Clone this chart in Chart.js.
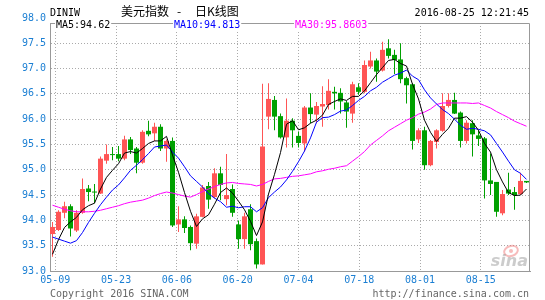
<!DOCTYPE html>
<html lang="zh-CN">
<head>
<meta charset="UTF-8">
<meta name="viewport" content="width=device-width, initial-scale=1.0">
<title>DINIW 美元指数 - 日K线图</title>
<style>
  html, body { margin: 0; padding: 0; background: #fff; }
  canvas { display: block; }
</style>
</head>
<body>
<canvas id="kline" width="545" height="300"></canvas>
<script src="https://cdn.jsdelivr.net/npm/chart.js"></script>
<script>
// daily bars, 05-06 .. 08-25 (80 sessions)
const openP = [93.73, 93.81, 94.15, 94.28, 93.80, 94.15, 94.63, 94.57, 94.53, 95.18,
               95.31, 95.31, 95.22, 95.60, 95.42, 95.14, 95.77, 95.72, 95.85, 95.42,
               95.57, 93.92, 94.02, 93.87, 93.54, 94.07, 94.68, 94.46, 94.93, 94.42,
               94.62, 93.92, 93.63, 94.22, 93.59, 93.13, 96.05, 96.38, 96.06, 95.64,
               95.97, 95.67, 95.52, 96.23, 96.09, 96.25, 96.28, 96.54, 96.52, 96.33,
               96.11, 96.63, 96.54, 97.04, 97.16, 96.96, 97.40, 97.27, 97.18, 96.81,
               96.69, 95.60, 95.78, 95.09, 95.55, 95.77, 96.26, 96.38, 96.13, 95.57,
               95.92, 95.68, 95.62, 94.79, 94.76, 94.14, 94.61, 94.56, 94.52, 94.78];
const highP = [93.97, 94.20, 94.37, 94.32, 94.20, 94.83, 94.70, 94.72, 95.26, 95.50,
               95.45, 95.47, 95.67, 95.65, 95.45, 95.78, 95.97, 95.93, 95.90, 95.60,
               95.64, 94.28, 94.08, 93.90, 94.13, 94.70, 94.76, 95.03, 95.06, 95.31,
               94.71, 94.00, 94.15, 94.32, 93.64, 96.70, 96.71, 96.46, 96.11, 96.41,
               96.02, 95.75, 96.26, 96.51, 96.34, 96.65, 96.79, 96.64, 96.61, 96.36,
               96.74, 96.71, 97.16, 97.33, 97.20, 97.53, 97.58, 97.37, 97.50, 96.84,
               96.71, 95.82, 95.85, 95.59, 95.80, 96.51, 96.51, 96.52, 96.15, 95.98,
               95.98, 95.78, 95.65, 95.32, 94.76, 94.60, 94.94, 94.66, 94.94, 94.78];
const lowP = [93.28, 93.79, 94.04, 93.68, 93.77, 94.13, 94.38, 94.34, 94.52, 95.12,
              95.19, 95.17, 95.19, 95.31, 94.93, 95.12, 95.66, 95.57, 95.37, 95.16,
              93.87, 93.77, 93.75, 93.41, 93.44, 94.06, 94.23, 94.43, 94.40, 94.30,
              94.07, 93.44, 93.44, 93.41, 93.05, 93.13, 95.80, 95.78, 95.62, 95.44,
              95.44, 95.44, 95.36, 95.92, 95.92, 95.85, 96.19, 96.19, 96.11, 95.83,
              95.93, 96.48, 96.51, 97.00, 96.74, 96.94, 97.20, 96.89, 96.71, 96.31,
              95.40, 95.53, 95.00, 95.07, 95.42, 95.75, 96.23, 96.10, 95.44, 95.52,
              95.26, 95.47, 94.43, 94.50, 94.07, 94.10, 94.50, 94.21, 94.50, 94.74];
const closeP = [93.87, 94.17, 94.28, 93.84, 94.15, 94.62, 94.56, 94.55, 95.22, 95.31,
                95.29, 95.22, 95.60, 95.39, 95.14, 95.75, 95.70, 95.85, 95.42, 95.57,
                93.90, 94.02, 93.85, 93.55, 94.08, 94.65, 94.41, 94.93, 94.70, 94.50,
                94.15, 93.63, 94.08, 93.53, 93.13, 95.46, 96.40, 96.05, 95.64, 95.97,
                95.78, 95.53, 96.23, 96.10, 96.26, 96.30, 96.56, 96.51, 96.35, 96.15,
                96.69, 96.54, 97.07, 97.16, 96.94, 97.37, 97.25, 97.17, 96.79, 96.67,
                95.57, 95.78, 95.09, 95.57, 95.78, 96.26, 96.38, 96.11, 95.57, 95.93,
                95.70, 95.61, 94.79, 94.72, 94.17, 94.52, 94.53, 94.50, 94.78, 94.75];

const ma5 = [93.33, 93.62, 93.86, 93.97, 94.06, 94.21, 94.29, 94.34, 94.62, 94.85,
             94.99, 95.12, 95.33, 95.36, 95.33, 95.42, 95.52, 95.57, 95.57, 95.66,
             95.29, 94.95, 94.55, 94.18, 93.88, 94.03, 94.11, 94.32, 94.55, 94.64,
             94.54, 94.38, 94.21, 93.98, 93.70, 93.97, 94.52, 94.91, 95.34, 95.90,
             95.97, 95.79, 95.83, 95.92, 95.98, 96.08, 96.29, 96.35, 96.40, 96.37,
             96.45, 96.45, 96.56, 96.72, 96.88, 97.02, 97.16, 97.18, 97.10, 97.05,
             96.69, 96.40, 95.98, 95.74, 95.56, 95.70, 95.82, 96.02, 96.02, 96.05,
             95.94, 95.78, 95.52, 95.35, 95.00, 94.76, 94.55, 94.49, 94.50, 94.62];
const ma10 = [93.67, 93.63, 93.59, 93.55, 93.60, 93.76, 93.96, 94.14, 94.31, 94.46,
              94.60, 94.70, 94.84, 94.99, 95.09, 95.20, 95.32, 95.45, 95.47, 95.49,
              95.35, 95.23, 95.06, 94.88, 94.77, 94.66, 94.53, 94.44, 94.37, 94.26,
              94.28, 94.25, 94.27, 94.27, 94.17, 94.25, 94.45, 94.56, 94.66, 94.80,
              94.97, 95.16, 95.37, 95.63, 95.94, 96.03, 96.04, 96.09, 96.16, 96.18,
              96.27, 96.37, 96.45, 96.56, 96.63, 96.73, 96.80, 96.87, 96.91, 96.97,
              96.85, 96.78, 96.58, 96.42, 96.30, 96.19, 96.11, 96.00, 95.88, 95.80,
              95.82, 95.80, 95.77, 95.69, 95.52, 95.35, 95.17, 95.00, 94.93, 94.81];
const ma30 = [94.30, 94.26, 94.22, 94.19, 94.17, 94.17, 94.17, 94.18, 94.20, 94.23,
              94.26, 94.29, 94.33, 94.36, 94.38, 94.40, 94.44, 94.49, 94.53, 94.56,
              94.54, 94.51, 94.48, 94.46, 94.51, 94.57, 94.62, 94.67, 94.71, 94.74,
              94.75, 94.73, 94.72, 94.71, 94.68, 94.71, 94.77, 94.82, 94.83, 94.85,
              94.87, 94.88, 94.90, 94.92, 94.96, 94.98, 95.01, 95.03, 95.06, 95.08,
              95.17, 95.26, 95.36, 95.49, 95.58, 95.67, 95.77, 95.84, 95.91, 95.98,
              96.03, 96.10, 96.14, 96.20, 96.29, 96.32, 96.32, 96.32, 96.32, 96.32,
              96.31, 96.32, 96.27, 96.22, 96.15, 96.09, 96.03, 95.96, 95.91, 95.86];

const yTicks = [93.0, 93.5, 94.0, 94.5, 95.0, 95.5, 96.0, 96.5, 97.0, 97.5, 98.0];
const xTickLabels = ['05-09', '05-23', '06-06', '06-20', '07-04', '07-18', '08-01', '08-15'];
const xTickAt = [0.47, 10.6, 20.73, 30.86, 40.99, 51.12, 61.25, 71.38];
const maLabels = ['MA5:94.62', 'MA10:94.813', 'MA30:95.8603'];

const MONO = '"DejaVu Sans Mono", "Liberation Mono", monospace';
const CJK = '"Noto Sans CJK SC", sans-serif';
const BLUE = '#1b7fd3';
const UP = '#ff5555';
const DOWN = '#00a000';
const GRID = '#aaaaaa';
const FRAME = '#999999';
const maColors = ['#000000', '#0000ff', '#ff00ff'];

Chart.defaults.font.family = MONO;
Chart.defaults.font.size = 10;

const candleColors = closeP.map((c, i) => (c >= openP[i] ? UP : DOWN));
const asPoints = arr => arr.map((v, i) => ({ x: i, y: v }));

function maLine(label, arr, color) {
  return {
    type: 'line', label, data: asPoints(arr),
    borderColor: color, borderWidth: 1, pointRadius: 0, tension: 0, order: 0
  };
}

// header, legend, footer, frame edges, watermark
const sinaDecor = {
  id: 'sinaDecor',
  afterDraw(chart) {
    const { ctx, chartArea: a } = chart;
    ctx.save();
    ctx.strokeStyle = FRAME;
    ctx.lineWidth = 1;
    ctx.beginPath();
    ctx.moveTo(a.left, a.top + 0.5);
    ctx.lineTo(a.right - 0.5, a.top + 0.5);
    ctx.lineTo(a.right - 0.5, a.bottom);
    ctx.stroke();

    ctx.textBaseline = 'alphabetic';
    ctx.fillStyle = '#000';
    ctx.font = '10px ' + MONO;
    ctx.textAlign = 'left';
    ctx.fillText('DINIW', 50, 16);
    ctx.textAlign = 'right';
    ctx.fillText('2016-08-25 12:21:45', 529, 16);
    ctx.textAlign = 'left';
    ctx.font = '12px ' + CJK;
    ctx.fillText('美元指数', 121, 16);
    ctx.fillText('-', 177, 16);
    ctx.fillText('日K线图', 195, 16);

    ctx.font = '10px ' + MONO;
    const maX = [56, 174, 295];
    maLabels.forEach((t, k) => {
      const w = ctx.measureText(t).width;
      ctx.fillStyle = '#fff';
      ctx.fillRect(maX[k] - 1, 21, w + 2, 10);
      ctx.fillStyle = maColors[k];
      ctx.fillText(t, maX[k], 28);
    });

    ctx.fillStyle = '#666';
    ctx.fillText('Copyright 2016 SINA.COM', 50, 297);
    ctx.textAlign = 'right';
    ctx.fillText('http://finance.sina.com.cn', 529, 297);

    // faint sina logo
    ctx.globalAlpha = 0.5;
    ctx.strokeStyle = '#f07878';
    ctx.lineWidth = 2;
    ctx.beginPath();
    ctx.ellipse(511, 251, 7, 5, -0.3, 0, Math.PI * 2);
    ctx.stroke();
    ctx.fillStyle = '#f07878';
    ctx.beginPath();
    ctx.arc(511, 251, 2, 0, Math.PI * 2);
    ctx.fill();
    ctx.fillStyle = '#999';
    ctx.font = 'italic bold 16px "DejaVu Sans"';
    ctx.fillText('sina', 528, 266);
    ctx.restore();
  }
};

new Chart(document.getElementById('kline'), {
  type: 'bar',
  data: {
    datasets: [
      maLine('MA5', ma5, maColors[0]),
      maLine('MA10', ma10, maColors[1]),
      maLine('MA30', ma30, maColors[2]),
      {
        type: 'bar', label: 'body',
        data: openP.map((o, i) => ({ x: i, y: [o, closeP[i]] })),
        backgroundColor: candleColors, barThickness: 5, minBarLength: 1,
        grouped: false, inflateAmount: 0, order: 1
      },
      {
        type: 'bar', label: 'wick',
        data: lowP.map((l, i) => ({ x: i, y: [l, highP[i]] })),
        backgroundColor: candleColors, barThickness: 1,
        grouped: false, inflateAmount: 0, order: 2
      }
    ]
  },
  options: {
    responsive: false,
    animation: false,
    devicePixelRatio: 1,
    events: [],
    layout: { padding: { left: 0, right: 15, top: 23, bottom: 11 } },
    plugins: { legend: { display: false }, tooltip: { enabled: false } },
    scales: {
      x: {
        type: 'linear',
        min: -0.4167,
        max: 79.5833,
        offset: false,
        afterBuildTicks: s => { s.ticks = xTickAt.map(v => ({ value: v })); },
        afterFit: s => { s.height = 18; },
        ticks: {
          autoSkip: false, maxRotation: 0, color: BLUE, padding: 3,
          font: { family: MONO, size: 10 },
          callback: (v, i) => xTickLabels[i]
        },
        grid: { color: GRID, drawTicks: false, offset: false },
        border: { color: FRAME, dash: [1, 2] }
      },
      y: {
        min: 93,
        max: 97.9,
        afterBuildTicks: s => { s.ticks = yTicks.map(v => ({ value: v })); },
        afterFit: s => { s.width = 50; },
        ticks: {
          color: BLUE, padding: 4,
          font: { family: MONO, size: 10 },
          callback: v => v.toFixed(1)
        },
        grid: {
          color: c => (c.tick && (c.tick.value === 93 || c.tick.value === 98)) ? 'rgba(0,0,0,0)' : GRID,
          drawTicks: false
        },
        border: { color: FRAME, dash: [1, 2] }
      }
    }
  },
  plugins: [sinaDecor]
});
</script>
</body>
</html>
